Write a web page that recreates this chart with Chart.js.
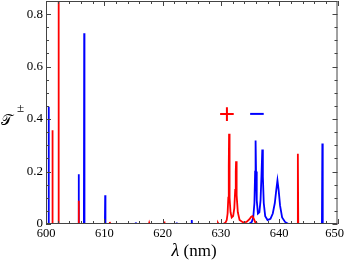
<!DOCTYPE html>
<html>
<head>
<meta charset="utf-8">
<script src="https://cdn.jsdelivr.net/npm/chart.js@4/dist/chart.umd.min.js"></script>
<style>
html, body { margin: 0; padding: 0; background: #fff; }
</style>
</head>
<body>
<canvas id="spec" width="345" height="264"></canvas>
<script>
// T+ (red) spectrum
const plusLambda = [600, 601.05, 601.1, 601.15, 602.1, 602.15, 602.2, 605.55, 605.6, 605.65,
    610.9, 610.95, 611.0, 617.65, 617.7, 617.75, 620.25, 620.3, 620.35, 629.4, 629.5, 629.6,
    630.4, 630.8, 631.0, 631.15, 631.27, 631.35, 631.4, 631.45, 631.53, 631.65, 631.85,
    632.1, 632.3, 632.45, 632.55, 632.6, 632.65, 632.75, 632.9, 633.2, 633.8, 634.4,
    634.9, 635.2, 635.4, 635.6, 635.9, 636.4, 643.13, 643.2, 643.27, 650];
const plusT = [0, 0, 0.357, 0, 0, 0.95, 0, 0, 0.089, 0,
    0, 0.008, 0, 0, 0.004, 0, 0, 0.01, 0, 0, 0.004, 0,
    0, 0.006, 0.015, 0.04, 0.1, 0.22, 0.344, 0.22, 0.1, 0.045, 0.025,
    0.03, 0.06, 0.13, 0.2, 0.239, 0.2, 0.11, 0.045, 0.015, 0.006, 0.008,
    0.018, 0.028, 0.03, 0.022, 0.006, 0, 0, 0.268, 0, 0];

// T- (blue) spectrum
const minusLambda = [600, 600.4, 600.45, 600.5, 605.55, 605.6, 605.65, 606.5, 606.55, 606.6,
    610.1, 610.15, 610.2, 615.35, 615.4, 615.45, 622.35, 622.4, 622.45, 624.95, 625.0, 625.05,
    634.8, 635.3, 635.55, 635.75, 635.87, 635.95, 636.03, 636.15, 636.35, 636.6, 636.8,
    636.95, 637.1, 637.2, 637.35, 637.6, 638.0, 638.5, 638.9, 639.25, 639.5, 639.7,
    639.9, 640.15, 640.5, 641.0, 641.6, 647.33, 647.4, 647.47, 650];
const minusT = [0, 0, 0.447, 0, 0, 0.19, 0, 0, 0.727, 0,
    0, 0.11, 0, 0, 0.006, 0, 0, 0.006, 0, 0, 0.015, 0,
    0, 0.008, 0.025, 0.08, 0.2, 0.318, 0.2, 0.09, 0.04, 0.045, 0.09,
    0.18, 0.284, 0.18, 0.08, 0.03, 0.015, 0.02, 0.04, 0.08, 0.13, 0.166,
    0.13, 0.07, 0.025, 0.008, 0, 0, 0.307, 0, 0];

const xTicks = [600, 610, 620, 630, 640, 650];
const yTicks = [0, 0.2, 0.4, 0.6, 0.8];

const serif = "'Liberation Serif', 'DejaVu Serif', serif";

function toPoints(xs, ys) {
    return xs.map((x, i) => ({x: x, y: ys[i]}));
}

// frame, inward ticks, x labels, axis titles and the +/- marks
const decor = {
    id: "decor",
    afterDatasetsDraw(chart) {
        const ctx = chart.ctx;
        const a = chart.chartArea;
        const xs = chart.scales.x;
        const ys = chart.scales.y;
        ctx.save();
        ctx.strokeStyle = "#444";
        ctx.lineWidth = 1;
        ctx.strokeRect(a.left + 0.5, a.top + 0.5, a.right - a.left - 1, a.bottom - a.top - 1);

        ctx.beginPath();
        for (let v = 600; v <= 650; v += 2) {
            const px = Math.round(xs.getPixelForValue(v)) + 0.5;
            const len = v % 10 === 0 ? 5 : 3;
            ctx.moveTo(px, a.bottom); ctx.lineTo(px, a.bottom - len);
            ctx.moveTo(px, a.top); ctx.lineTo(px, a.top + len);
        }
        for (let k = 0; k <= 17; k++) {
            const v = k * 0.05;
            const py = Math.round(ys.getPixelForValue(v)) + 0.5;
            const len = k % 4 === 0 ? 5 : 3;
            ctx.moveTo(a.left, py); ctx.lineTo(a.left + len, py);
            ctx.moveTo(a.right, py); ctx.lineTo(a.right - len, py);
        }
        ctx.stroke();

        // x tick labels, kept inside the canvas
        ctx.fillStyle = "#000";
        ctx.font = "12.5px " + serif;
        ctx.textBaseline = "top";
        ctx.textAlign = "left";
        xTicks.forEach(v => {
            const t = String(v);
            const w = ctx.measureText(t).width;
            let left = xs.getPixelForValue(v) - w / 2;
            left = Math.min(left, chart.width - 1 - w);
            ctx.fillText(t, left, a.bottom + 3);
        });

        // x title
        ctx.textBaseline = "alphabetic";
        const lam = "λ";
        const rest = " (nm)";
        ctx.font = "17px " + serif;
        const wRest = ctx.measureText(rest).width;
        ctx.font = "italic 18px " + serif;
        const wLam = ctx.measureText(lam).width;
        const x0 = 194 - (wLam + wRest) / 2;
        ctx.fillText(lam, x0, 256);
        ctx.font = "17px " + serif;
        ctx.fillText(rest, x0 + wLam, 256);

        // y title
        ctx.font = "15px " + serif;
        ctx.fillText("𝒯", 1, 125);
        ctx.font = "13px " + serif;
        ctx.fillText("±", 17, 112);

        // series marks
        ctx.textAlign = "center";
        ctx.textBaseline = "middle";
        ctx.font = "28px 'Liberation Sans', sans-serif";
        ctx.fillStyle = "#ff0000";
        ctx.fillText("+", 227, 115);
        ctx.fillStyle = "#0000ff";
        ctx.fillText("−", 257, 115);
        ctx.restore();
    }
};

new Chart(document.getElementById("spec"), {
    type: "line",
    data: {
        datasets: [{
            label: "T+",
            data: toPoints(plusLambda, plusT),
            borderColor: "#ff0000",
            borderWidth: 1.8,
            pointRadius: 0,
            tension: 0
        }, {
            label: "T-",
            data: toPoints(minusLambda, minusT),
            borderColor: "#0000ff",
            borderWidth: 1.8,
            pointRadius: 0,
            tension: 0
        }]
    },
    options: {
        responsive: false,
        animation: false,
        layout: {padding: {left: 0, right: 7.5, top: 1, bottom: 0}},
        plugins: {legend: {display: false}, tooltip: {enabled: false}},
        scales: {
            x: {
                type: "linear",
                min: 600,
                max: 650,
                grid: {display: false, drawTicks: false},
                border: {display: false},
                afterBuildTicks: s => { s.ticks = xTicks.map(v => ({value: v})); },
                afterFit: s => { s.height = 40; s.paddingLeft = 0; s.paddingRight = 0; },
                ticks: {display: false}
            },
            y: {
                min: 0,
                max: 0.85,
                grid: {display: false, drawTicks: false},
                border: {display: false},
                afterBuildTicks: s => { s.ticks = yTicks.map(v => ({value: v})); },
                afterFit: s => { s.width = 46; s.paddingTop = 0; s.paddingBottom = 0; },
                ticks: {
                    padding: 3,
                    color: "#000",
                    font: {family: serif, size: 13},
                    callback: v => String(v)
                }
            }
        }
    },
    plugins: [decor]
});
</script>
</body>
</html>
